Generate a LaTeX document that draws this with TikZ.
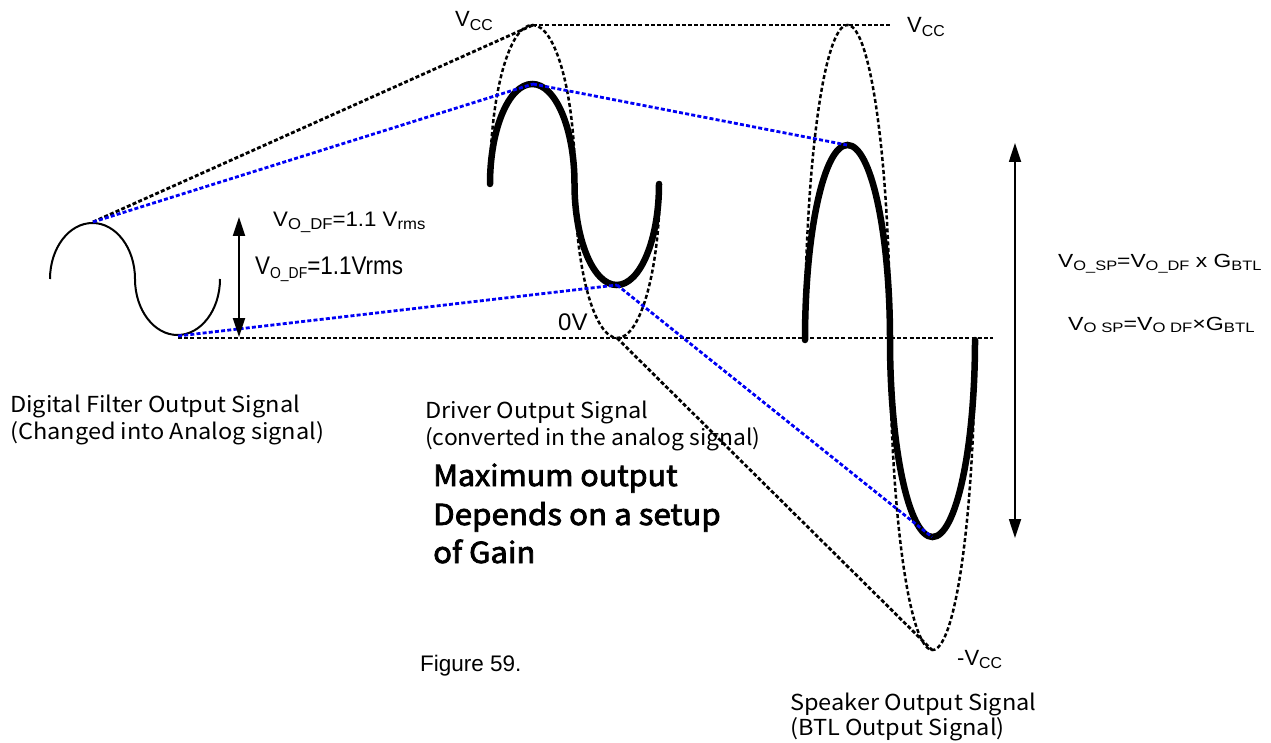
\documentclass[tikz,border=0pt]{standalone}
\usepackage{fontspec}
\setmainfont{Liberation Sans}
\newfontfamily\jpfont{Noto Sans CJK JP}
\newfontfamily\jpbold[FakeBold=2.6]{Noto Sans CJK JP}
\usetikzlibrary{arrows.meta}
\definecolor{dotblue}{RGB}{0,0,245}
\newcommand\sbs[1]{\raisebox{-0.14em}{\scalebox{0.72}{#1}}}
\newcommand\sbt[1]{\raisebox{-0.14em}{\scalebox{0.62}{#1}}}
\newcommand\jx[1]{\scalebox{1.07}[1]{#1}}
\tikzset{
  dotln/.style={line width=2.8pt, dash pattern=on 4pt off 2.2pt},
  bluedot/.style={dotln, draw=dotblue},
  env/.style={line width=2.5pt, dash pattern=on 4pt off 2.5pt},
  bigwave/.style={line width=6.5pt, line cap=round},
  smallwave/.style={line width=2pt},
  dbl/.style={line width=1.8pt, {Triangle[length=19pt,width=12pt]}-{Triangle[length=19pt,width=12pt]}},
  lbl/.style={inner sep=0pt, anchor=base west},
  jp/.style={lbl, font=\jpfont\fontsize{22}{26}\selectfont},
  jpb/.style={lbl, font=\jpbold\fontsize{29}{36}\selectfont},
  ar/.style={lbl, font=\fontsize{22}{26}\selectfont}
}
\begin{document}
\begin{tikzpicture}[x=1pt,y=-1pt]
\useasboundingbox (0,0) rectangle (1271,743);
% key points
\coordinate (dfpk) at (93,222);
\coordinate (dftr) at (178,336);
\coordinate (drpk) at (533,84);
\coordinate (drtr) at (617,285);
\coordinate (vcc) at (533,25);
\coordinate (vccR) at (890,25);
\coordinate (zero) at (617,338);
\coordinate (zeroL) at (178,338);
\coordinate (zeroR) at (993,338);
\coordinate (spk) at (847,145);
\coordinate (sptr) at (932,537);
\coordinate (nvcc) at (932,650);
\coordinate (aLt) at (239,217);
\coordinate (aLb) at (239,337);
\coordinate (aRt) at (1015,143);
\coordinate (aRb) at (1015,538);

% waves (half-ellipse lobes)
\draw[smallwave] (50,279) arc[start angle=180, end angle=360, x radius=42.5, y radius=56]
                          arc[start angle=180, end angle=0, x radius=42.5, y radius=56];
\draw[bigwave] (490,184) arc[start angle=180, end angle=360, x radius=42.25, y radius=100]
                         arc[start angle=180, end angle=0, x radius=42.25, y radius=101];
\draw[bigwave] (805,340) arc[start angle=180, end angle=360, x radius=42.5, y radius=195]
                         arc[start angle=180, end angle=0, x radius=42.5, y radius=197];

% envelopes
\draw[env] (490,181.5) arc[start angle=180, end angle=360, x radius=42.5, y radius=156.5]
                       arc[start angle=180, end angle=0, x radius=42.5, y radius=156.5];
\draw[env] (805,338) arc[start angle=180, end angle=360, x radius=42.5, y radius=313]
                     arc[start angle=180, end angle=0, x radius=42.5, y radius=312];

% black dotted guides
\draw[dotln] (dfpk) -- (vcc);
\draw[dotln] (vcc) -- (vccR);
\draw[dotln] (zeroL) -- (zeroR);
\draw[dotln] (zero) -- (nvcc);

% blue dotted guides
\draw[bluedot] (dfpk) -- (drpk);
\draw[bluedot] (drpk) -- (spk);
\draw[bluedot] (dftr) -- (drtr);
\draw[bluedot] (drtr) -- (sptr);

% arrows
\draw[dbl] (aLt) -- (aLb);
\draw[dbl] (aRt) -- (aRb);

% labels
\node[ar] (vccl) at (455,27) {V\sbs{CC}};
\node[ar] (vccr) at (907,33) {V\sbs{CC}};
\node[ar] (nvccl) at (957,665) {-V\sbs{CC}};
\node[ar, font=\fontsize{24}{28}\selectfont] (zv) at (558,330) {0V};
\node[ar, font=\fontsize{22.5}{26}\selectfont] (fig) at (420,671) {Figure 59.};
\node[ar, font=\fontsize{21}{26}\selectfont] (vodf1) at (273,227) {\scalebox{1.06}[1]{V\raisebox{-0.12em}{\scalebox{0.75}{O\_DF}}=1.1 V\raisebox{-0.12em}{\scalebox{0.75}{rms}}}};
\node[ar, font=\fontsize{25.5}{30}\selectfont] (vodf2) at (255,275) {\scalebox{0.88}[1]{V\sbt{O\_DF}=1.1Vrms}};
\node[ar, font=\fontsize{19}{24}\selectfont] (vosp1) at (1058,268) {\scalebox{1.2}[1]{V\sbs{O\_SP}=V\sbs{O\_DF} x G\sbs{BTL}}};
\node[ar, font=\fontsize{19}{24}\selectfont] (vosp2) at (1068,330) {\scalebox{1.22}[1]{V\sbs{O SP}=V\sbs{O DF}×G\sbs{BTL}}};

\node[jp] (df1) at (10,412) {\jx{Digital Filter Output Signal}};
\node[jp] (df2) at (10,439) {\jx{(Changed into Analog signal)}};
\node[jp] (dr1) at (425,418) {\jx{Driver Output Signal}};
\node[jp] (dr2) at (425,445) {\scalebox{1.04}[1]{(converted in the analog signal)}};
\node[jp] (sp1) at (790,710) {\jx{Speaker Output Signal}};
\node[jp] (sp2) at (790,735) {\jx{(BTL Output Signal)}};
\node[jpb] (mx1) at (433,486) {\scalebox{1.05}[1]{Maximum output}};
\node[jpb] (mx2) at (433,525) {\scalebox{1.08}[1]{Depends on a setup}};
\node[jpb] (mx3) at (433,563) {\scalebox{1.07}[1]{of Gain}};
\end{tikzpicture}
\end{document}
